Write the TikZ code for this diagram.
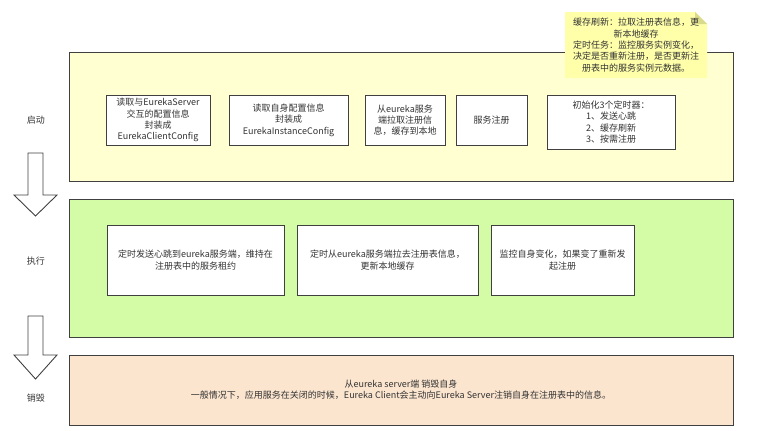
\documentclass[tikz,border=0pt]{standalone}
\usepackage{fontspec}
\setmainfont{Noto Sans CJK SC}
\usetikzlibrary{positioning}
\definecolor{startfill}{HTML}{FFFFD2}
\definecolor{runfill}{HTML}{D4FCA6}
\definecolor{endfill}{HTML}{FBE5CF}
\definecolor{notefill}{HTML}{FFFFAA}
\definecolor{notefold}{HTML}{DADA8C}
\definecolor{edge}{HTML}{404040}
\definecolor{ink}{HTML}{333333}
\tikzset{
  panel/.style={draw=edge,line width=0.9pt,minimum width=664pt,inner sep=0pt},
  task/.style={draw=edge,line width=0.9pt,fill=white,align=center,inner sep=2pt,text=ink},
  phase/.style={text=ink},
  flowarrow/.style={draw=edge,line width=0.9pt,fill=white,line join=miter}
}
\begin{document}
\begin{tikzpicture}[x=1pt,y=-1pt,font=\fontsize{9}{11.3}\selectfont]
  \useasboundingbox (0,0) rectangle (758,431);

  % phases
  \node[panel,fill=startfill,minimum height=129pt] (start) at (401,116.5) {};
  \node[panel,fill=runfill,minimum height=138pt]   (run)   at (401,268)   {};
  \node[panel,fill=endfill,minimum height=70pt]    (stop)  at (401,390)   {};

  \node[phase] (startlbl) at (36,120) {启动};
  \node[phase] (runlbl)   at (36,261) {执行};
  \node[phase] (stoplbl)  at (36,398) {销毁};

  % block arrows between phases
  \draw[flowarrow] (28,153) -- (43,153) -- (43,195) -- (57,195) -- (35.5,216)
                   -- (14,195) -- (28,195) -- cycle;
  \draw[flowarrow] (28,316) -- (43,316) -- (43,355) -- (57,355) -- (35.5,379)
                   -- (14,355) -- (28,355) -- cycle;

  % start
  \node[task,minimum width=104pt,minimum height=50pt] (clientcfg) at (158,120)
       {读取与EurekaServer\\交互的配置信息\\封装成\\EurekaClientConfig};
  \node[task,minimum width=119pt,minimum height=50pt] (instcfg) at (288.5,120)
       {读取自身配置信息\\封装成\\EurekaInstanceConfig};
  \node[task,minimum width=80pt,minimum height=50pt] (fetch) at (405,120)
       {从eureka服务\\端拉取注册信\\息，缓存到本地};
  \node[task,minimum width=71pt,minimum height=50pt] (register) at (491.5,120)
       {服务注册};
  \node[task,minimum width=128pt,minimum height=54pt] (timers) at (611,122)
       {初始化3个定时器：\\1、发送心跳\\2、缓存刷新\\3、按需注册};

  % run
  \node[task,minimum width=177pt,minimum height=70pt] (heartbeat) at (195.5,260)
       {定时发送心跳到eureka服务端，维持在\\注册表中的服务租约};
  \node[task,minimum width=181pt,minimum height=70pt] (refresh) at (387.5,260)
       {定时从eureka服务端拉去注册表信息，\\更新本地缓存};
  \node[task,minimum width=143pt,minimum height=70pt] (watch) at (562.5,260)
       {监控自身变化，如果变了重新发\\起注册};

  % stop
  \node[text=ink,align=center] (cancel) at (401,390)
       {从eureka server端 销毁自身\\一般情况下，应用服务在关闭的时候，Eureka Client会主动向Eureka Server注销自身在注册表中的信息。};

  % note
  \fill[notefill] (565,12) -- (695,12) -- (707,24) -- (707,78) -- (565,78) -- cycle;
  \fill[notefold] (695,12) -- (707,24) -- (695,24) -- cycle;
  \node[text=ink,align=center] (note) at (636,45)
       {缓存刷新：拉取注册表信息，更\\新本地缓存\\定时任务：监控服务实例变化，\\决定是否重新注册，是否更新注\\册表中的服务实例元数据。};
\end{tikzpicture}
\end{document}
